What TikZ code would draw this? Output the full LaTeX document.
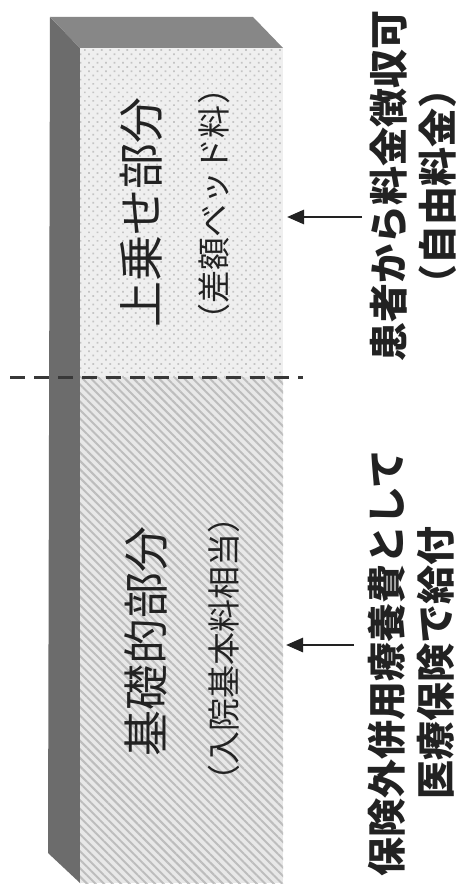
\documentclass[tikz,border=0pt]{standalone}
\usepackage{fontspec}
\newfontfamily\jp{Noto Sans CJK JP}
\usetikzlibrary{patterns.meta,arrows.meta}
\definecolor{sidec}{HTML}{6C6C6C}
\definecolor{topc}{HTML}{878787}
\definecolor{upbase}{HTML}{EFEFEF}
\definecolor{updot}{HTML}{C4C4C4}
\definecolor{lobase}{HTML}{E8E8E8}
\definecolor{loline}{HTML}{BDBDBD}
\definecolor{ink}{HTML}{222222}
\tikzset{
  intext/.style={rotate=90, inner sep=0pt, text=ink, font=\jp\fontsize{46}{46}\selectfont},
  insub/.style={rotate=90, inner sep=0pt, text=ink, font=\jp\fontsize{33}{33}\selectfont},
  outtext/.style={rotate=90, inner sep=0pt, text=ink, align=center, font=\jp\bfseries\fontsize{39}{49}\selectfont},
  pointer/.style={draw=ink, line width=2.8pt, -{Triangle[length=17pt,width=14pt]}},
  divider/.style={draw=ink!90, line width=3pt, dash pattern=on 15pt off 9pt}
}
\begin{document}
\begin{tikzpicture}[x=1pt,y=-1pt]
\useasboundingbox (0,0) rectangle (460,890);
\fill[white] (0,0) rectangle (460,890);
% side and top faces
\fill[sidec] (50,17) -- (80,48) -- (80,883) -- (48,853) -- cycle;
\fill[topc] (50,17) -- (253,17) -- (283,48) -- (80,48) -- cycle;
% front face, upper part
\fill[upbase] (80,48) rectangle (283,377);
\fill[pattern={Dots[distance=6pt,radius=1.2pt,angle=45]}, pattern color=updot] (80,48) rectangle (283,377);
% front face, lower part
\fill[lobase] (80,377) rectangle (283,883);
\fill[pattern={Lines[angle=-45,distance=6pt,line width=2pt]}, pattern color=loline] (80,377) rectangle (283,883);
% divider
\coordinate (dl) at (10,377);
\coordinate (dr) at (303,377);
\draw[divider] (dl) -- (dr);
% inner texts
\node[intext] (up) at (141,212) {上乗せ部分};
\node[insub] (upsub) at (214,204) {（差額ベッド料）};
\node[intext] (lo) at (146,641) {基礎的部分};
\node[insub] (losub) at (224,649) {（入院基本料相当）};
% outer texts
\node[outtext] (rt) at (413,186) {患者から料金徴収可\\（自由料金）};
\node[outtext] (rb) at (411,663) {保険外併用療養費として\\医療保険で給付};
% arrows
\coordinate (us) at (362,217);
\coordinate (ue) at (287,217);
\coordinate (ls) at (354,645);
\coordinate (le) at (286,645);
\draw[pointer] (us) -- (ue);
\draw[pointer] (ls) -- (le);
\end{tikzpicture}
\end{document}
